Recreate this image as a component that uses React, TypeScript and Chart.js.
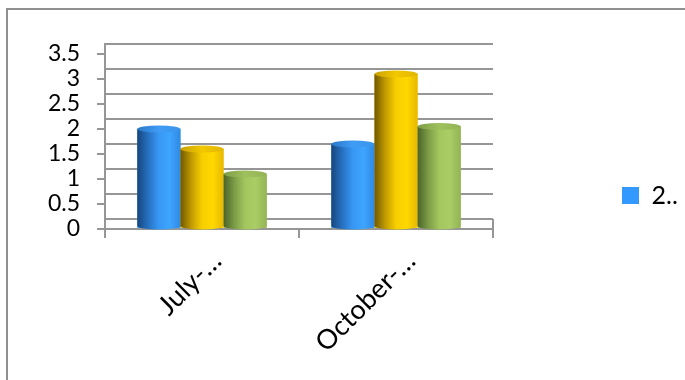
import React, { useEffect, useRef } from "react";
import { Chart, registerables } from "chart.js";

Chart.register(...registerables);

// ---- data ----
const categories = ["July-…", "October-…"];
const seriesNames = ["2..", "2..", "2.."];
const seriesBlue = [2.0, 1.7];
const seriesYellow = [1.6, 3.1];
const seriesGreen = [1.1, 2.05];
const yMin = 0;
const yMax = 3.5;
const yStep = 0.5;
const yTickLabels = ["0", "0.5", "1", "1.5", "2", "2.5", "3", "3.5"];

// ---- styles ----
const FONT = "Lato, 'Open Sans', sans-serif";
const LEGEND_SIZE = 25;
const LEGEND_BOX = 17;
const solidColors = ["#3399ff", "#ffcc00", "#9bbb59"];
const bodyStops = [
  ["#17467c", "#2670c0", "#3798f4", "#3ea5ff", "#2f89e2"],
  ["#705800", "#c09a00", "#f7cf00", "#ffd800", "#e6b800"],
  ["#4a6428", "#7c9c46", "#a3c65e", "#aacd66", "#93b453"],
];
const topStops = [
  ["#2a78c8", "#3f9cf5", "#3a94ea"],
  ["#c9a000", "#f2c800", "#e0b600"],
  ["#7d9c48", "#9fc05c", "#94b456"],
];
const GRID = "#969696";
const DEPTH = 10;
const CANVAS_W = 730;
const CANVAS_H = 380;

const wallPlugin = {
  id: "wall",
  beforeDatasetsDraw(chart: any) {
    const { ctx, chartArea } = chart;
    const { left, right, top, bottom } = chartArea;
    const ys = chart.scales.y;
    ctx.save();
    ctx.strokeStyle = GRID;
    ctx.lineWidth = 2;
    const line = (x1: number, y1: number, x2: number, y2: number) => {
      ctx.beginPath();
      ctx.moveTo(x1, y1);
      ctx.lineTo(x2, y2);
      ctx.stroke();
    };
    ys.ticks.forEach((t: any) => {
      const py = ys.getPixelForValue(t.value) - DEPTH;
      line(left, py, right, py);
    });
    line(right, ys.getPixelForValue(0) - DEPTH, right, bottom);
    line(left, top - DEPTH - 1, left, bottom + 9);
    ctx.restore();
  },
};

const cylinderPlugin = {
  id: "cylinders",
  afterDatasetsDraw(chart: any) {
    const ctx = chart.ctx;
    chart.data.datasets.forEach((_ds: any, di: number) => {
      const meta = chart.getDatasetMeta(di);
      meta.data.forEach((el: any) => {
        const { x, y, base, width } = el.getProps(["x", "y", "base", "width"], true);
        const l = x - width / 2;
        const r = x + width / 2;
        const rx = width / 2;
        const ry = 3.5;
        const g = ctx.createLinearGradient(l, 0, r, 0);
        const st = bodyStops[di];
        st.forEach((c, i) => g.addColorStop(i / (st.length - 1), c));
        ctx.save();
        ctx.beginPath();
        ctx.moveTo(l, y);
        ctx.lineTo(l, base - 2);
        ctx.ellipse(x, base - 2, rx, ry, 0, Math.PI, 0, true);
        ctx.lineTo(r, y);
        ctx.closePath();
        ctx.fillStyle = g;
        ctx.fill();
        const tg = ctx.createLinearGradient(l, 0, r, 0);
        const ts = topStops[di];
        ts.forEach((c, i) => tg.addColorStop(i / (ts.length - 1), c));
        ctx.beginPath();
        ctx.ellipse(x, y, rx, ry, 0, 0, Math.PI * 2);
        ctx.fillStyle = tg;
        ctx.fill();
        ctx.restore();
      });
    });
  },
};

export default function App() {
  const ref = useRef<HTMLCanvasElement | null>(null);

  useEffect(() => {
    if (!ref.current) return;
    // legend geometry: plot right edge at 485, legend box at 614 (canvas px)
    const mc = document.createElement("canvas").getContext("2d") as CanvasRenderingContext2D;
    mc.font = `${LEGEND_SIZE}px ${FONT}`;
    const tw = mc.measureText(seriesNames[0]).width;
    const legendPad = 129;
    const legendW = legendPad + LEGEND_BOX + LEGEND_SIZE / 2 + tw + 10;
    const padRight = Math.max(0, CANVAS_W - 485 - legendW);

    const chart = new Chart(ref.current, {
      type: "bar",
      data: {
        labels: categories,
        datasets: [
          { label: seriesNames[0], data: seriesBlue, backgroundColor: solidColors[0] },
          { label: seriesNames[1], data: seriesYellow, backgroundColor: solidColors[1] },
          { label: seriesNames[2], data: seriesGreen, backgroundColor: solidColors[2] },
        ],
      },
      options: {
        animation: false,
        responsive: false,
        devicePixelRatio: 1,
        layout: { padding: { top: 21, right: padRight, bottom: 30, left: 0 } },
        datasets: { bar: { barPercentage: 1, categoryPercentage: 0.667 } },
        plugins: {
          tooltip: { enabled: false },
          title: {
            display: true,
            text: "",
            font: { size: 10, lineHeight: 1.2 },
            padding: { top: 0, bottom: 11 },
          },
          legend: {
            position: "right",
            align: "center",
            maxWidth: 1000,
            labels: {
              boxWidth: LEGEND_BOX,
              boxHeight: LEGEND_BOX,
              padding: legendPad,
              color: "#000",
              font: { family: FONT, size: LEGEND_SIZE },
              filter: (item: any) => item.datasetIndex === 0,
            },
          },
        },
        scales: {
          x: {
            afterFit: (s: any) => {
              s.height = 131;
            },
            grid: {
              display: true,
              drawOnChartArea: false,
              drawTicks: true,
              tickLength: 9,
              color: GRID,
              lineWidth: 2,
              offset: true,
            },
            border: { display: true, color: GRID, width: 2 },
            ticks: {
              autoSkip: false,
              maxRotation: 45,
              minRotation: 45,
              padding: 7,
              labelOffset: 15,
              color: "#000",
              font: { family: FONT, size: 27 },
            },
          },
          y: {
            min: yMin,
            max: yMax,
            afterFit: (s: any) => {
              s.width = 97;
            },
            grid: {
              display: true,
              drawOnChartArea: false,
              drawTicks: true,
              tickLength: 8,
              color: GRID,
              lineWidth: 2,
            },
            border: { display: false },
            ticks: {
              stepSize: yStep,
              autoSkip: false,
              padding: 17,
              color: "#000",
              font: { family: FONT, size: 23 },
              callback: (_v: any, i: number) => yTickLabels[i],
            },
          },
        },
      },
      plugins: [wallPlugin, cylinderPlugin],
    });
    return () => chart.destroy();
  }, []);

  return (
    <div
      style={{
        position: "fixed",
        left: 0,
        top: 0,
        width: 685,
        height: 380,
        overflow: "hidden",
        background: "#fff",
      }}
    >
      <div
        style={{
          position: "absolute",
          left: 6,
          top: 8,
          width: 780,
          height: 420,
          border: "2px solid #8f8f8f",
          boxSizing: "border-box",
        }}
      >
        <canvas
          ref={ref}
          width={CANVAS_W}
          height={CANVAS_H}
          style={{ position: "absolute", left: 0, top: 0, width: CANVAS_W, height: CANVAS_H }}
        />
      </div>
    </div>
  );
}
